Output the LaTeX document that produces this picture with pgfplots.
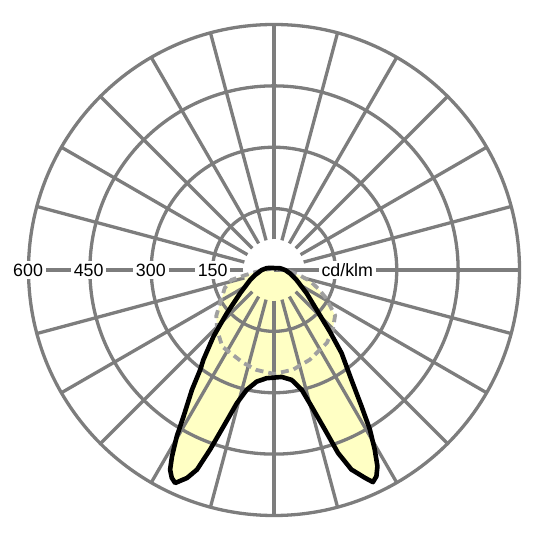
\documentclass[border=0pt]{standalone}
\usepackage{fontspec}
\setmainfont{Liberation Sans}
\usepackage{pgfplots}
\usepackage{pgfplotstable}
\pgfplotsset{compat=1.18}
\usepgfplotslibrary{polar}
\definecolor{gridgray}{RGB}{125,125,125}
\definecolor{dashgray}{RGB}{160,160,160}
\definecolor{lightyellow}{RGB}{255,255,196}
\tikzset{lbl/.style={fill=white, inner xsep=3pt, inner ysep=3pt, text height=12.8pt,
    text depth=0pt, anchor=center, font=\fontsize{17.8}{20}\selectfont}}

% C0-C180 plane: angle t (polar, 270 = nadir), r in cd/klm
\pgfplotstableread{
t r
90 5
120 6
150 10
165 18
180 30
195 48
202.6 63
214.4 100
222.5 156
225.5 188
227.7 220
231.8 279
233.5 303
235.6 355
238.3 421
239.7 471
241.3 519
242.5 550
243.8 566
245.1 574
247.3 551
248.9 523
250.4 466
252.1 402
254.4 338
257.2 300
261.2 276
266.1 265
270 263
274.1 262
279.1 272
283 300
285.4 346
287.7 410
289.3 474
291.2 523
293.6 554
295 572
296.4 563
297.8 542
299.3 503
301 455
302.7 396
305.2 328
309.1 262
312.2 203
316.9 143
324.5 98
336.2 60
348 40
360 27
375 16
390 9
420 5
450 5
}\planeA

% C90-C270 plane
\pgfplotstableread{
t r
90 3
150 6
170 12
180 22
186 45
190 70
193.1 107
200 128
207.4 143
218.4 180
226.5 202
236 226
251.6 239
260 248
270 254
280.8 248
291.8 236
306 220
314.5 205
323.4 186
331.7 144
337 118
343 92
348 65
354 42
360 22
370 12
390 6
450 3
}\planeB

\begin{document}
\begin{tikzpicture}
\begin{polaraxis}[
  scale only axis, width=491pt, height=491pt,
  xmin=0, xmax=360, ymin=0, ymax=600,
  xtick=\empty, ytick={150,300,450},
  xmajorgrids=false, ymajorgrids=true,
  yticklabels={}, major tick length=0pt,
  grid style={gridgray, line width=3.3pt},
  axis line style={gridgray, line width=3.3pt},
  set layers, clip=false,
]
\addplot[on layer=axis background, fill=lightyellow, draw=none] table[x=t, y=r] {\planeB};
\addplot[on layer=axis background, fill=lightyellow, draw=none] table[x=t, y=r] {\planeA};

\pgfplotsinvokeforeach{0,15,30,45,60,75,90,105,120,135,150,165,180,195,210,225,240,255,270,285,300,315,330,345}{
  \addplot[gridgray, line width=3.3pt, no marks] coordinates {(#1,75) (#1,600)};
}

\addplot[dashgray, line width=3.8pt, dash pattern=on 8pt off 5pt, no marks] table[x=t, y=r] {\planeB};
\addplot[black, line width=4.6pt, line join=round, no marks] table[x=t, y=r] {\planeA};

\node[lbl] at (axis cs:180,601) {600};
\node[lbl] at (axis cs:180,453) {450};
\node[lbl] at (axis cs:180,301) {300};
\node[lbl] at (axis cs:180,150) {150};
\node[lbl] at (axis cs:0,179) {cd/klm};
\coordinate (C) at (axis cs:0,0);
\end{polaraxis}
\pgfresetboundingbox
\path[use as bounding box] (C) ++(-274pt,-270pt) rectangle ++(540pt,540pt);
\end{tikzpicture}
\end{document}
